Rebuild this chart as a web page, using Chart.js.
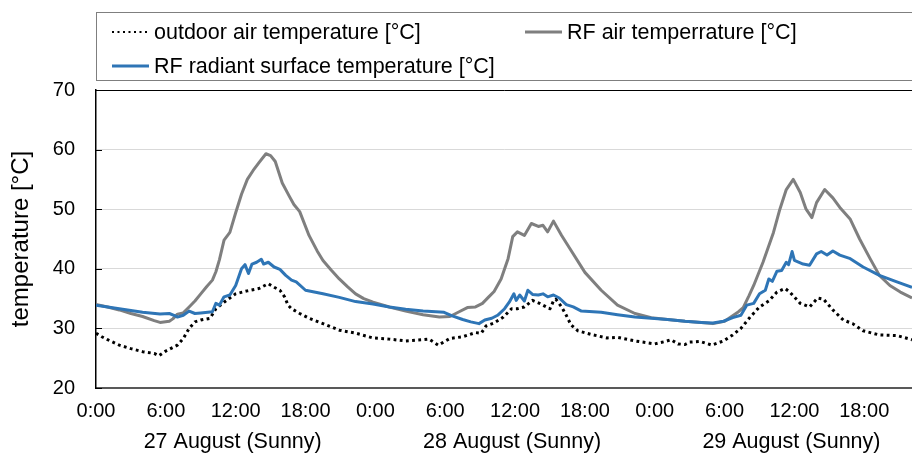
<!DOCTYPE html>
<html>
<head>
<meta charset="utf-8">
<script src="https://cdn.jsdelivr.net/npm/chart.js@4.4.1/dist/chart.umd.min.js"></script>
<style>
  html, body { margin: 0; padding: 0; background: #fff; overflow: hidden; }
  #wrap { position: relative; width: 912px; height: 457px; }
</style>
</head>
<body>
<div id="wrap"><canvas id="tempChart"></canvas></div>
<script>
const FONT = '"Liberation Sans", Arial, sans-serif';

// x values are hours since 0:00 on 27 August
const tickHours = [0, 6, 12, 18, 24, 30, 36, 42, 48, 54, 60, 66];
const dayLabels = ['27 August (Sunny)', '28 August (Sunny)', '29 August (Sunny)'];
const yTicks = [20, 30, 40, 50, 60, 70];

// outdoor air temperature
const outdoorHours = [0, 0.5, 1, 2, 3, 4, 5, 5.4, 6, 7, 7.5, 8, 8.5, 9, 9.8, 10.3, 11, 11.5, 12, 13, 14, 14.8, 15.3, 15.8, 16.2, 16.5, 16.8,
  17.5, 18.3, 19.5, 20.9, 22.3, 23.8, 25.2, 26.6, 28.1, 28.6, 29.4, 30.4, 31.5, 32.6, 33.1, 33.5, 34.2, 35, 35.7, 36.2, 36.8, 37.5,
  38.1, 38.7, 39, 39.3, 39.5, 40, 40.4, 40.8, 41.4, 42.5, 43.9, 44.8, 46.3, 48, 48.9, 49.4, 50, 50.6, 51, 51.9, 52.9, 53.9, 54.7,
  55.4, 56.2, 57, 57.8, 58.5, 59.2, 59.6, 60.5, 61.3, 62, 62.5, 63.3, 64.2, 65, 65.9, 67.3, 68.8, 70.1];
const outdoorTemp = [29.2, 28.6, 28.1, 27.2, 26.6, 26.1, 25.8, 25.4, 26.2, 27.2, 28.3, 30.0, 31.1, 31.4, 31.7, 33.3, 34.4, 35.1, 35.8, 36.3, 36.7, 37.5, 36.9, 36.4, 35.3, 33.9, 33.3,
  32.5, 31.7, 30.8, 29.7, 29.2, 28.4, 28.2, 27.9, 28.1, 28.2, 27.2, 28.3, 28.6, 29.3, 29.2, 30.4, 30.9, 31.9, 33.3, 33.3, 33.6, 34.7,
  34.2, 33.6, 33.3, 34.6, 34.9, 33.6, 32.2, 30.6, 29.6, 29.0, 28.4, 28.5, 27.9, 27.4, 27.8, 28.1, 27.4, 27.3, 27.7, 27.8, 27.2, 27.9, 28.9,
  30.0, 31.9, 33.6, 34.6, 36.1, 36.7, 36.1, 34.2, 33.6, 35.1, 34.9, 33.1, 31.4, 30.8, 29.6, 28.9, 28.8, 28.1];

// RF air temperature
const rfAirHours = [0, 1, 2, 3, 4, 5, 5.5, 6.3, 6.6, 7, 7.5, 8, 8.5, 9, 9.5, 10, 10.3, 10.6, 11, 11.5, 12, 12.5, 13, 13.5, 14, 14.6, 15, 15.4,
  16, 16.6, 17, 17.5, 18.3, 19, 19.5, 20.2, 20.9, 21.6, 22.3, 23, 23.8, 25.2, 26.6, 28.1, 29.5, 30.4, 31.2, 31.9, 32.6, 33.2, 33.7,
  34.2, 34.8, 35.4, 35.8, 36.2, 36.8, 37.4, 38, 38.4, 38.8, 39.3, 40, 40.8, 42, 43.4, 44.8, 46.3, 47.7, 49.1, 50.6, 52, 53, 54, 54.6,
  55.2, 55.6, 56.1, 56.5, 57.3, 58.2, 58.75, 59.3, 59.9, 60.5, 61, 61.5, 61.9, 62.6, 63.3, 63.9, 64.8, 65.6, 66.5, 67.3, 68.2, 69.1, 70.1];
const rfAirTemp = [34.0, 33.6, 33.1, 32.5, 32.0, 31.3, 31.0, 31.2, 31.6, 32.4, 32.6, 33.6, 34.6, 35.8, 37.0, 38.1, 39.5, 41.5, 44.8, 46.1, 49.4, 52.5, 55.0, 56.5, 57.8, 59.3, 59.0, 58.0,
  54.4, 52.2, 50.8, 49.6, 45.6, 43.0, 41.4, 39.8, 38.3, 37.0, 35.8, 35.0, 34.4, 33.6, 32.9, 32.3, 31.9, 32.0, 32.8, 33.5, 33.6, 34.2, 35.2,
  36.2, 38.3, 41.7, 45.4, 46.2, 45.6, 47.6, 47.1, 47.3, 46.2, 48.0, 45.6, 43.1, 39.4, 36.4, 33.9, 32.5, 31.8, 31.5, 31.2, 31.0, 30.8, 31.2, 32.0,
  32.8, 33.5, 35.5, 37.2, 41.1, 46.1, 50.0, 53.3, 55.0, 52.8, 50.0, 48.6, 51.1, 53.3, 51.9, 50.3, 48.3, 45.0, 41.7, 38.9, 37.2, 36.1, 35.1];

// RF radiant surface temperature
const radiantHours = [0, 2, 4, 5.5, 6.3, 6.7, 7, 7.5, 8, 8.5, 9, 10, 10.3, 10.6, 11, 11.5, 12, 12.5, 12.8, 13.1, 13.4, 13.8, 14.2, 14.4, 14.8,
  15.3, 15.8, 16.3, 16.8, 17.2, 18, 19.5, 20.9, 22.3, 23.8, 25.2, 26.6, 28.1, 29.2, 29.9, 30.6, 31.5, 32.2, 32.9, 33.4, 34, 34.5, 35.1,
  35.5, 35.9, 36.1, 36.4, 36.8, 37.1, 37.5, 38, 38.4, 38.8, 39.3, 39.8, 40.4, 41, 41.7, 43.4, 44.8, 46.3, 47.7, 49.1, 50.6, 52, 53, 53.9,
  54.7, 55.4, 55.9, 56.5, 57, 57.5, 57.8, 58.1, 58.5, 58.9, 59.3, 59.5, 59.8, 60, 60.75, 61.3, 61.9, 62.3, 62.8, 63.3, 63.9, 64.8, 65.9,
  67.3, 68.8, 70.1];
const radiantTemp = [33.9, 33.3, 32.7, 32.4, 32.5, 32.2, 31.9, 32.2, 32.9, 32.5, 32.6, 32.8, 34.2, 33.9, 35.3, 35.6, 37.2, 40.0, 40.7, 39.2, 40.8, 41.1, 41.6, 40.8, 41.1,
  40.3, 39.9, 38.9, 38.1, 37.8, 36.4, 35.8, 35.2, 34.5, 34.1, 33.6, 33.2, 32.9, 32.8, 32.7, 32.1, 31.5, 31.1, 30.8, 31.4, 31.7, 32.2, 33.3,
  34.4, 35.8, 34.7, 35.6, 34.6, 36.4, 35.7, 35.6, 35.8, 35.3, 35.6, 35.1, 34.0, 33.6, 32.9, 32.7, 32.3, 31.9, 31.7, 31.5, 31.2, 31.0, 30.9, 31.2,
  31.8, 32.2, 33.9, 34.2, 35.8, 36.4, 38.3, 37.9, 39.6, 39.7, 41.1, 40.7, 42.9, 41.4, 40.8, 40.6, 42.5, 42.9, 42.3, 43.0, 42.3, 41.7, 40.3,
  38.9, 37.8, 36.9];

const toPoints = (hours, temps) => hours.map((h, i) => ({ x: h, y: temps[i] }));

// Boxed two-row legend, inward y ticks and the day names under the hour labels
const extras = {
    id: 'extras',
    afterDraw(chart) {
        const ctx = chart.ctx;
        const ds = chart.data.datasets;
        const xs = chart.scales.x;
        const ys = chart.scales.y;
        const items = [
            { d: ds[0], x: 112, y: 32 },
            { d: ds[1], x: 525, y: 32 },
            { d: ds[2], x: 112, y: 66 }
        ];
        ctx.save();
        ctx.strokeStyle = '#7f7f7f';
        ctx.lineWidth = 1;
        ctx.strokeRect(96.5, 12.5, 830, 68);

        ctx.font = '21.5px ' + FONT;
        ctx.fillStyle = '#000';
        ctx.textBaseline = 'middle';
        items.forEach(it => {
            ctx.beginPath();
            ctx.strokeStyle = it.d.borderColor;
            ctx.lineWidth = it.d === ds[0] ? 2 : it.d.borderWidth;
            ctx.setLineDash(it.d === ds[0] ? [2, 3.5] : []);
            ctx.moveTo(it.x, it.y);
            ctx.lineTo(it.x + 37, it.y);
            ctx.stroke();
            ctx.setLineDash([]);
            ctx.fillText(it.d.label, it.x + 42, it.y + 1);
        });

        // short inward tick marks on the value axis
        ctx.strokeStyle = '#000';
        ctx.lineWidth = 1;
        yTicks.forEach(v => {
            const py = Math.round(ys.getPixelForValue(v)) + 0.5;
            ctx.beginPath();
            ctx.moveTo(xs.left, py);
            ctx.lineTo(xs.left + 6, py);
            ctx.stroke();
        });

        ctx.textAlign = 'center';
        dayLabels.forEach((name, i) => {
            ctx.fillText(name, xs.getPixelForValue(i * 24 + 12) - 3, 442);
        });
        ctx.restore();
    }
};

new Chart(document.getElementById('tempChart'), {
    type: 'line',
    data: {
        datasets: [
            {
                label: 'outdoor air temperature [°C]',
                data: toPoints(outdoorHours, outdoorTemp),
                borderColor: '#000000',
                borderWidth: 3,
                borderDash: [2.8, 3.4],
                order: 2
            },
            {
                label: 'RF air temperrature [°C]',
                data: toPoints(rfAirHours, rfAirTemp),
                borderColor: '#7f7f7f',
                borderWidth: 3,
                order: 1
            },
            {
                label: 'RF radiant surface temperature [°C]',
                data: toPoints(radiantHours, radiantTemp),
                borderColor: '#2e75b6',
                borderWidth: 3,
                order: 0
            }
        ]
    },
    options: {
        responsive: true,
        maintainAspectRatio: false,
        devicePixelRatio: 1,
        animation: false,
        layout: { padding: { top: 90, left: 0, right: 0, bottom: 0 } },
        elements: {
            point: { radius: 0 },
            line: { tension: 0, borderJoinStyle: 'round' }
        },
        plugins: {
            legend: { display: false },
            tooltip: { enabled: false }
        },
        scales: {
            x: {
                type: 'linear',
                min: 0,
                max: 70.1,
                afterBuildTicks: scale => { scale.ticks = tickHours.map(v => ({ value: v })); },
                afterFit: scale => { scale.height = 69; scale.paddingLeft = 0; scale.paddingRight = 0; },
                grid: { display: false, drawTicks: false },
                border: { color: '#595959', width: 2 },
                ticks: {
                    autoSkip: false,
                    maxRotation: 0,
                    minRotation: 0,
                    padding: 8,
                    color: '#000',
                    font: { family: FONT, size: 20, lineHeight: 1.5 },
                    callback: value => (value % 24) + ':00'
                }
            },
            y: {
                min: 20,
                max: 70,
                afterBuildTicks: scale => { scale.ticks = yTicks.map(v => ({ value: v })); },
                afterFit: scale => { scale.width = 96; },
                grid: {
                    drawTicks: false,
                    lineWidth: 1,
                    color: c => (c.tick && c.tick.value === 70 ? '#000000' : '#d9d9d9')
                },
                border: { color: '#000', width: 1.5 },
                ticks: {
                    padding: 21,
                    color: '#000',
                    font: { family: FONT, size: 20 }
                },
                title: {
                    display: true,
                    text: 'temperature [°C]',
                    color: '#000',
                    font: { family: FONT, size: 24 },
                    padding: { top: 7 }
                }
            }
        }
    },
    plugins: [extras]
});
</script>
</body>
</html>
